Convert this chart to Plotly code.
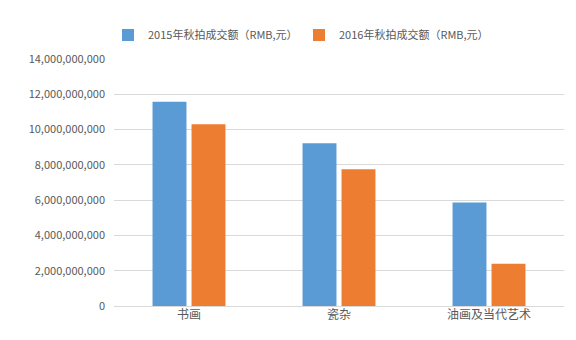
import plotly.graph_objects as go

categories = ["书画", "瓷杂", "油画及当代艺术"]
series_names = ["2015年秋拍成交额（RMB,元）", "2016年秋拍成交额（RMB,元）"]
values_2015 = [11580000000, 9220000000, 5860000000]
values_2016 = [10300000000, 7750000000, 2400000000]
colors = ["#5B9BD5", "#ED7D31"]
tick_vals = [0, 2e9, 4e9, 6e9, 8e9, 10e9, 12e9, 14e9]
tick_text = ["0", "2,000,000,000", "4,000,000,000", "6,000,000,000", "8,000,000,000",
             "10,000,000,000", "12,000,000,000", "14,000,000,000"]

font_family = "Noto Sans CJK SC, Microsoft YaHei, sans-serif"

fig = go.Figure()
for name, vals, col in zip(series_names, [values_2015, values_2016], colors):
    fig.add_trace(go.Bar(x=categories, y=vals, name=name, marker_color=col,
                         marker_line_width=0))

fig.update_layout(
    width=576, height=340,
    margin=dict(l=114, r=12, t=59, b=34, autoexpand=False),
    paper_bgcolor="white", plot_bgcolor="white",
    barmode="group", bargap=0.48, bargroupgap=0.13,
    font=dict(family=font_family, size=11, color="#595959"),
    legend=dict(orientation="h", x=108/576, xref="container", xanchor="left",
                y=0.897, yref="container", yanchor="middle",
                font=dict(size=11, color="#595959"),
                itemwidth=30, entrywidth=146, entrywidthmode="pixels",
                bgcolor="rgba(0,0,0,0)"),
    showlegend=True,
)
fig.update_yaxes(range=[0, 14e9], tickvals=tick_vals, ticktext=tick_text,
                 showgrid=True, gridcolor="#D9D9D9", gridwidth=1,
                 zeroline=True, zerolinecolor="#D9D9D9", zerolinewidth=1,
                 ticks="", ticklabelstandoff=8, tickfont=dict(size=11, color="#595959"))
fig.update_xaxes(showgrid=False, showline=False, ticks="",
                 tickfont=dict(size=12, color="#595959"))

fig.write_html("out.html")
